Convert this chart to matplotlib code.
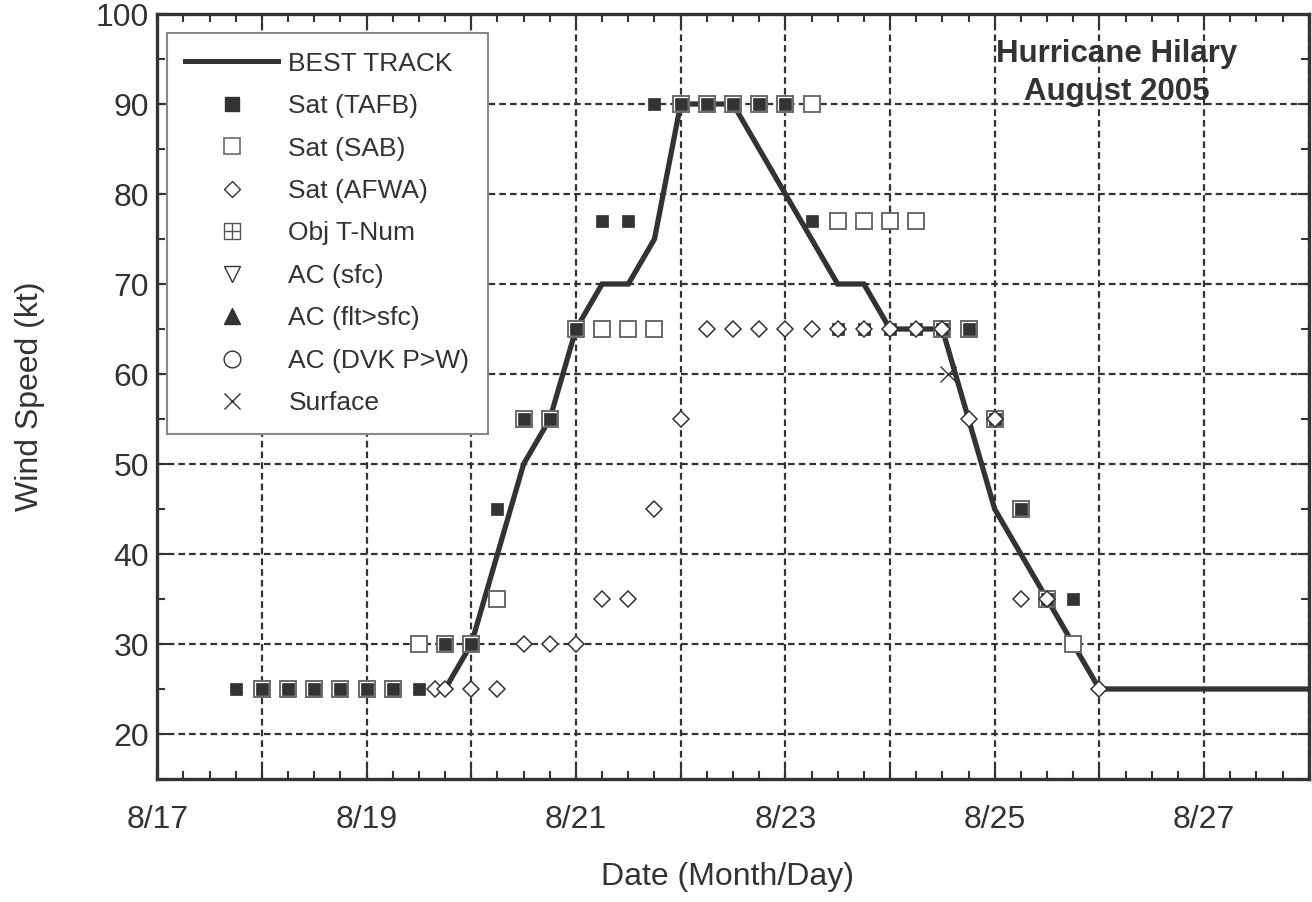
import matplotlib
matplotlib.use("Agg")
import matplotlib.pyplot as plt
from matplotlib.lines import Line2D
from matplotlib.legend_handler import HandlerTuple
from matplotlib.ticker import MultipleLocator, FixedLocator, FixedFormatter

plt.rcParams['font.family'] = ['Liberation Sans', 'DejaVu Sans']
plt.rcParams['lines.scale_dashes'] = False

# ---- data (day of August 2005, fractional days) ----
best_t = [19.75, 20.0, 20.25, 20.5, 20.75, 21.0, 21.25, 21.5, 21.75, 22.0, 22.25, 22.5,
          22.75, 23.0, 23.25, 23.5, 23.75, 24.0, 24.25, 24.5, 24.75, 25.0, 25.25, 25.5,
          25.75, 26.0, 28.0]
best_v = [25, 30, 40, 50, 55, 65, 70, 70, 75, 90, 90, 90,
          85, 80, 75, 70, 70, 65, 65, 65, 55, 45, 40, 35,
          30, 25, 25]

tafb_t = [17.75, 18.0, 18.25, 18.5, 18.75, 19.0, 19.25, 19.5, 19.75, 20.0, 20.25, 20.5,
          20.75, 21.0, 21.25, 21.5, 21.75, 22.0, 22.25, 22.5, 22.75, 23.0, 23.25, 23.5,
          23.75, 24.0, 24.25, 24.5, 24.75, 25.0, 25.25, 25.5, 25.75]
tafb_v = [25, 25, 25, 25, 25, 25, 25, 25, 30, 30, 45, 55,
          55, 65, 77, 77, 90, 90, 90, 90, 90, 90, 77, 65,
          65, 65, 65, 65, 65, 55, 45, 35, 35]

sab_t = [18.0, 18.25, 18.5, 18.75, 19.0, 19.25, 19.5, 19.75, 20.0, 20.25, 20.5, 20.75,
         21.0, 21.25, 21.5, 21.75, 22.0, 22.25, 22.5, 22.75, 23.0, 23.25, 23.5, 23.75,
         24.0, 24.25, 24.5, 24.75, 25.0, 25.25, 25.5, 25.75]
sab_v = [25, 25, 25, 25, 25, 25, 30, 30, 30, 35, 55, 55,
         65, 65, 65, 65, 90, 90, 90, 90, 90, 90, 77, 77,
         77, 77, 65, 65, 55, 45, 35, 30]

afwa_t = [19.65, 19.75, 20.0, 20.25, 20.5, 20.75, 21.0, 21.25, 21.5, 21.75, 22.0, 22.25,
          22.5, 22.75, 23.0, 23.25, 23.5, 23.75, 24.0, 24.25, 24.5, 24.75, 25.0, 25.25,
          25.5, 26.0]
afwa_v = [25, 25, 25, 25, 30, 30, 30, 35, 35, 45, 55, 65,
          65, 65, 65, 65, 65, 65, 65, 65, 65, 55, 55, 35,
          35, 25]

sfc_t = [24.55]
sfc_v = [60]

tick_days = [17, 18, 19, 20, 21, 22, 23, 24, 25, 26, 27, 28]
tick_labels = ['8/17', '', '8/19', '', '8/21', '', '8/23', '', '8/25', '', '8/27', '']
ytick_vals = [20, 30, 40, 50, 60, 70, 80, 90, 100]

title_lines = ['Hurricane Hilary', 'August 2005']

# ---- style ----
C = '#333333'
fig = plt.figure(figsize=(13.12, 9.02), dpi=100)
ax = fig.add_axes([157.3 / 1312, 1 - 779 / 902, 1151.4 / 1312, 765 / 902])

ax.set_xlim(17, 28)
ax.set_ylim(15, 100)

ax.plot(best_t, best_v, color=C, lw=3.8, zorder=3, solid_joinstyle='miter')
ax.plot(sab_t, sab_v, ls='none', marker='s', ms=11.8, mfc='white', mec='#6a6a6a',
        mew=1.4, zorder=4)
ax.plot(tafb_t, tafb_v, ls='none', marker='s', ms=8.8, mfc=C, mec=C, mew=0.5, zorder=5)
ax.plot(afwa_t, afwa_v, ls='none', marker='D', ms=8.5, mfc='white', mec=C, mew=1.1,
        zorder=6)
ax.plot(sfc_t, sfc_v, ls='none', marker='x', ms=12, mec=C, mew=1.0, zorder=6)

# axes styling
for s in ax.spines.values():
    s.set_linewidth(2.4)
    s.set_color(C)
ax.xaxis.set_major_locator(FixedLocator(tick_days))
ax.xaxis.set_major_formatter(FixedFormatter(tick_labels))
ax.xaxis.set_minor_locator(MultipleLocator(0.25))
ax.yaxis.set_major_locator(FixedLocator(ytick_vals))
ax.yaxis.set_minor_locator(MultipleLocator(5))
ax.tick_params(which='both', direction='in', top=True, right=True, color=C, width=1.5,
               labelcolor=C, labelsize=23)
ax.tick_params(which='major', length=8)
ax.tick_params(which='minor', length=6)
ax.tick_params(axis='x', which='major', pad=19)
ax.tick_params(axis='y', which='major', pad=6)

ax.grid(True, which='major', color=C, lw=1.6, ls=(0, (4.8, 2.9)), zorder=1)

ax.set_xlabel('Date (Month/Day)', fontsize=23, color=C)
ax.xaxis.set_label_coords(0.4952, -0.1085)
ax.set_ylabel('Wind Speed (kt)', fontsize=23, color=C)
ax.yaxis.set_label_coords(-0.0975, 0.5)

ax.text(0.8332, 0.9373, title_lines[0], transform=ax.transAxes, ha='center',
        va='baseline', fontsize=22.5, fontweight='bold', color=C, zorder=7)
ax.text(0.8332, 0.8876, title_lines[1], transform=ax.transAxes, ha='center',
        va='baseline', fontsize=22.5, fontweight='bold', color=C, zorder=7)

# legend
h_best = Line2D([], [], color=C, lw=3.6)
h_tafb = Line2D([], [], ls='none', marker='s', ms=9.5, mfc=C, mec=C)
h_sab = Line2D([], [], ls='none', marker='s', ms=11.5, mfc='white', mec='#6a6a6a', mew=1.2)
h_afwa = Line2D([], [], ls='none', marker='D', ms=8.3, mfc='white', mec=C, mew=1.0)
h_obj1 = Line2D([], [], ls='none', marker='s', ms=11.5, mfc='none', mec='#555555', mew=1.0)
h_obj2 = Line2D([], [], ls='none', marker='+', ms=11.5, mec='#555555', mew=1.0)
h_acs = Line2D([], [], ls='none', marker='v', ms=11.5, mfc='white', mec=C, mew=1.0)
h_acf = Line2D([], [], ls='none', marker='^', ms=11.5, mfc=C, mec=C)
h_dvk = Line2D([], [], ls='none', marker='o', ms=12, mfc='white', mec=C, mew=1.0)
h_sur = Line2D([], [], ls='none', marker='x', ms=12, mec=C, mew=1.0)

handles = [h_best, h_tafb, h_sab, h_afwa, (h_obj1, h_obj2), h_acs, h_acf, h_dvk, h_sur]
labels = ['BEST TRACK', 'Sat (TAFB)', 'Sat (SAB)', 'Sat (AFWA)', 'Obj T-Num',
          'AC (sfc)', 'AC (flt>sfc)', 'AC (DVK P>W)', 'Surface']
leg = ax.legend(handles, labels, loc='upper left', bbox_to_anchor=(0.0084, 0.975),
                borderaxespad=0, fontsize=19, handlelength=3.5, handletextpad=0.4,
                labelspacing=0.70, borderpad=0.7, fancybox=False, framealpha=1,
                edgecolor='#888888', labelcolor=C,
                handler_map={tuple: HandlerTuple(ndivide=1, pad=0)})
leg.get_frame().set_linewidth(1.5)
leg.set_zorder(8)

fig.savefig('out.png', dpi=100)
